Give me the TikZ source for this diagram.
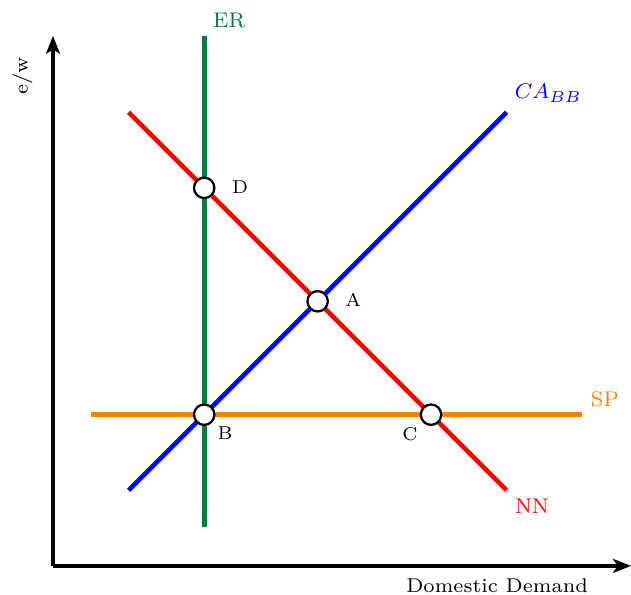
\documentclass[tikz,border=0pt]{standalone}
\usepackage{graphicx}
\usetikzlibrary{arrows.meta}
\definecolor{ergreen}{RGB}{0,125,60}
\definecolor{sporange}{RGB}{255,128,0}
\newcommand\twox[1]{\scalebox{2}{#1}}
\newcommand\axx[1]{\scalebox{2.14}{#1}}
\begin{document}
\begin{tikzpicture}[
  axis/.style={line width=3.5pt, -{Stealth[length=13.5pt,width=10.5pt,inset=3.5pt]}},
  curve/.style={line width=3.5pt},
  pt/.style={circle, draw=black, fill=white, line width=1.7pt, minimum size=0.54cm, inner sep=0pt},
  ptlbl/.style={font=\scriptsize, text=black, inner sep=0pt},
  crvlbl/.style={font=\footnotesize, inner sep=0pt},
  axlbl/.style={font=\scriptsize, text=black, inner sep=0pt}
]
\useasboundingbox (-1.402,-0.767) rectangle (15.29,14.97);
% axes
\coordinate (O) at (0,0);
\coordinate (Ytop) at (0,14.02);
\coordinate (Xend) at (15.29,0);
\draw[axis] (O) -- (Ytop);
\draw[axis] (O) -- (Xend);
% curve endpoints
\coordinate (ER1) at (4,1.03);
\coordinate (ER2) at (4,14.02);
\coordinate (NN1) at (2,12);
\coordinate (NN2) at (12,2);
\coordinate (CA1) at (2,2);
\coordinate (CA2) at (12,12);
\coordinate (SP1) at (1,4);
\coordinate (SP2) at (14,4);
\draw[curve, ergreen] (ER1) -- (ER2);
\draw[curve, red] (NN1) -- (NN2);
\draw[curve, blue] (CA1) -- (CA2);
\draw[curve, sporange] (SP1) -- (SP2);
% intersection points
\node[pt] (D) at (4,10) {};
\node[pt] (A) at (7,7) {};
\node[pt] (B) at (4,4) {};
\node[pt] (C) at (10,4) {};
% point labels
\node[ptlbl] (Dl) at (4.95,10.03) {\twox{D}};
\node[ptlbl] (Al) at (7.94,7.04) {\twox{A}};
\node[ptlbl] (Bl) at (4.55,3.52) {\twox{B}};
\node[ptlbl] (Cl) at (9.44,3.49) {\twox{C}};
% curve labels
\node[crvlbl, text=ergreen] (ERl) at (4.66,14.44) {\twox{ER}};
\node[crvlbl, text=blue] (CAl) at (13.1,12.51) {\twox{$CA_{BB}$}};
\node[crvlbl, text=sporange] (SPl) at (14.6,4.42) {\twox{SP}};
\node[crvlbl, text=red] (NNl) at (12.67,1.59) {\twox{NN}};
% axis labels
\node[axlbl, rotate=90] (Yl) at (-0.8,12.96) {\axx{e/w}};
\node[axlbl] (Xl) at (11.75,-0.53) {\axx{Domestic Demand}};
\end{tikzpicture}
\end{document}
